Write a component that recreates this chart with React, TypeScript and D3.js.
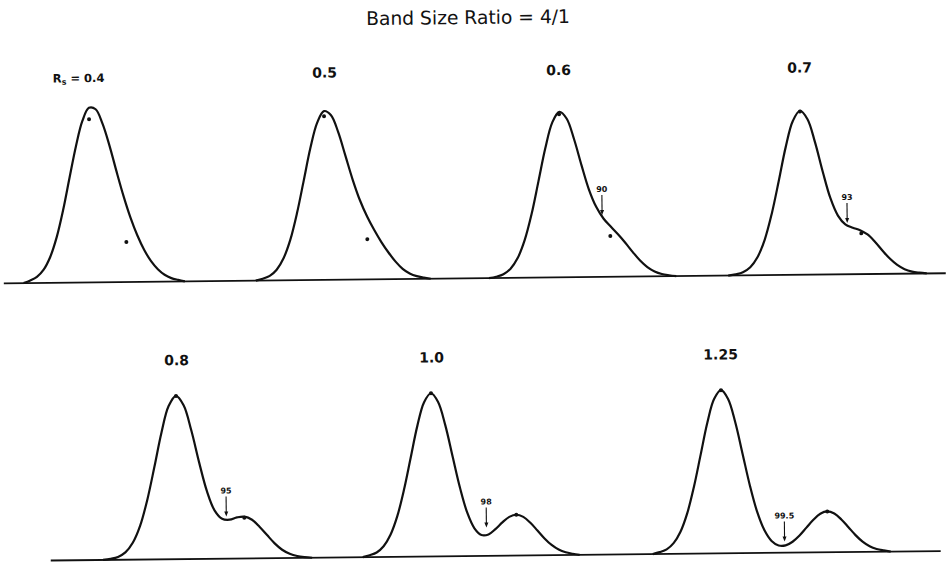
import React from "react";
import * as d3 from "d3";

// ---------- data (time units along the strip, signal in % of main band) ----------
const title = "Band Size Ratio = 4/1";
const resolutionLabels = ["0.4", "0.5", "0.6", "0.7", "0.8", "1.0", "1.25"];
const panelRow = [0, 0, 0, 0, 1, 1, 1];
const labelTime = [8.1, 32.7, 56.1, 80.2, 17.6, 43.1, 72.0];

const trace04: [number, number][] = [[2.38,0],[3.05,1.5],[3.72,3.6],[4.40,7.8],[5.07,15.2],[5.74,26.8],[6.41,42.7],[7.08,61.5],[7.76,80.2],[8.43,95.0],[9.10,102.7],[9.77,101.8],[10.44,93.3],[11.12,80.2],[11.79,65.1],[12.46,50.7],[13.13,38.0],[13.80,27.4],[14.48,18.7],[15.15,12.1],[15.82,7.3],[16.49,4.0],[17.16,2.0],[17.84,0.9],[18.51,0]];
const trace05: [number, number][] = [[25.6,0],[26.3,1.1],[27.0,2.7],[27.7,6.3],[28.4,13.0],[29.1,23.9],[29.8,39.6],[30.5,58.5],[31.2,77.6],[31.9,92.4],[32.6,99.3],[33.3,96.8],[34.0,86.8],[34.7,72.8],[35.4,58.7],[36.1,46.6],[36.8,37.0],[37.5,29.0],[38.2,21.9],[38.9,15.7],[39.6,10.3],[40.3,6.0],[41.0,3.25],[41.7,1.6],[42.4,0.7],[43.1,0]];
const trace06: [number, number][] = [[48.93,0],[49.65,0.8],[50.37,2.2],[51.09,5.4],[51.81,11.6],[52.53,22.1],[53.25,37.4],[53.97,56.6],[54.69,76.0],[55.41,91.1],[56.13,97.4],[56.85,93.4],[57.57,81.3],[58.29,65.9],[59.01,51.5],[59.73,41.1],[60.45,34.2],[61.17,29.4],[61.89,24.8],[62.61,19.8],[63.33,14.4],[64.05,9.4],[64.77,5.5],[65.49,2.9],[66.21,1.35],[66.93,0.56],[67.65,0]];
const trace07: [number, number][] = [[72.85,0],[73.59,0.7],[74.32,1.9],[75.06,4.8],[75.79,10.6],[76.53,20.8],[77.26,36.0],[78.00,55.3],[78.73,75.2],[79.47,90.5],[80.20,96.5],[80.94,91.5],[81.67,77.8],[82.41,60.5],[83.14,45.0],[83.88,34.6],[84.61,29.4],[85.35,27.4],[86.08,25.9],[86.82,23.3],[87.55,19.0],[88.29,13.8],[89.02,9.0],[89.76,5.2],[90.49,2.65],[91.23,1.2],[91.96,0.5],[92.70,0]];
const trace08: [number, number][] = [[10.03,0],[10.78,0.6],[11.53,1.7],[12.27,4.3],[13.02,9.9],[13.77,19.8],[14.51,34.9],[15.26,54.3],[16.01,74.6],[16.75,90.1],[17.50,96.1],[18.25,90.5],[18.99,75.7],[19.74,56.8],[20.49,39.8],[21.23,28.5],[21.98,23.5],[22.73,22.9],[23.47,24.2],[24.22,24.6],[24.97,22.7],[25.71,18.6],[26.46,13.6],[27.21,8.7],[27.95,4.9],[28.70,2.5],[29.45,1.1],[30.19,0.4],[30.94,0]];
const trace10: [number, number][] = [[36.0,0],[36.7,1.1],[37.4,2.7],[38.1,6.3],[38.8,13.0],[39.5,23.9],[40.2,39.5],[40.9,58.2],[41.6,76.9],[42.3,90.8],[43.0,96.0],[43.7,90.8],[44.4,77.0],[45.1,58.5],[45.8,40.2],[46.5,25.5],[47.2,16.3],[47.9,12.3],[48.6,12.6],[49.3,15.7],[50.0,19.6],[50.7,22.8],[51.4,24.0],[52.1,22.7],[52.8,19.2],[53.5,14.6],[54.2,9.9],[54.9,6.0],[55.6,3.25],[56.3,1.6],[57.0,0.7],[57.7,0]];
const trace125: [number, number][] = [[65.0,0],[65.7,1.1],[66.4,2.7],[67.1,6.3],[67.8,13.0],[68.5,23.9],[69.2,39.5],[69.9,58.2],[70.6,76.9],[71.3,90.8],[72.0,96.0],[72.7,90.8],[73.4,76.9],[74.1,58.2],[74.8,39.5],[75.5,24.0],[76.2,13.3],[76.9,7.0],[77.6,4.3],[78.3,4.3],[79.0,6.4],[79.7,10.0],[80.4,14.6],[81.1,19.2],[81.8,22.7],[82.5,24.0],[83.2,22.7],[83.9,19.2],[84.6,14.6],[85.3,9.9],[86.0,6.0],[86.7,3.25],[87.4,1.6],[88.1,0.7],[88.8,0]];
const traces = [trace04, trace05, trace06, trace07, trace08, trace10, trace125];

// individual band maxima (dots)
const bandMaxima04: [number, number][] = [[9.1, 96.0], [12.7, 23.5]];
const bandMaxima05: [number, number][] = [[32.6, 96.3], [36.8, 23.7]];
const bandMaxima06: [number, number][] = [[56.1, 96.0], [61.1, 24.0]];
const bandMaxima07: [number, number][] = [[80.2, 96.0], [86.2, 24.0]];
const bandMaxima08: [number, number][] = [[17.5, 96.0], [24.2, 24.0]];
const bandMaxima10: [number, number][] = [[43.0, 96.0], [51.4, 24.0]];
const bandMaxima125: [number, number][] = [[72.0, 96.0], [82.5, 24.0]];
const bandMaxima = [bandMaxima04, bandMaxima05, bandMaxima06, bandMaxima07, bandMaxima08, bandMaxima10, bandMaxima125];

// purity arrows
const purityLabels = ["90", "93", "95", "98", "99.5"];
const purityRow = [0, 0, 1, 1, 1];
const purityTime = [60.3, 84.8, 22.4, 48.4, 78.2];
const purityTip = [36.4, 30.2, 24.8, 16.7, 6.6];

// baselines (time extent)
const baselineExtent: [number, number][] = [[0.4, 94.6], [4.8, 93.8]];

// ---------- layout ----------
const W = 946, H = 563;
const rowBase = [278.3, 556];
const rowLabelY = [76, 362];
const peakPx = 170;

export default function App() {
  const x = d3.scaleLinear().domain([0, 94.6]).range([0, W]);
  const ys = rowBase.map((b) => d3.scaleLinear().domain([0, 100]).range([b, b - peakPx]));
  const font = "'DejaVu Sans', sans-serif";
  const ink = "#111";

  return (
    <svg width={W} height={H} viewBox={`0 0 ${W} ${H}`}
      style={{ position: "absolute", left: 0, top: 0, background: "#fff" }}>
      <rect width={W} height={H} fill="#fff" />
      <g transform="rotate(-0.61 473 300)">
        <text x={471} y={24} textAnchor="middle" fontFamily={font} fontSize={18.7} fill={ink}>{title}</text>

        {baselineExtent.map((e, r) => (
          <line key={"b" + r} x1={x(e[0])} x2={x(e[1])} y1={ys[r](0)} y2={ys[r](0)} stroke={ink} strokeWidth={1.8} />
        ))}

        {traces.map((t, i) => {
          const y = ys[panelRow[i]];
          const line = d3.line<[number, number]>().x((d) => x(d[0])).y((d) => y(d[1])).curve(d3.curveCatmullRom.alpha(0.5));
          return <path key={"t" + i} d={line(t) || ""} fill="none" stroke={ink} strokeWidth={2.2} strokeLinejoin="round" />;
        })}

        {bandMaxima.map((pts, i) =>
          pts.map((p, j) => (
            <circle key={"d" + i + "-" + j} cx={x(p[0])} cy={ys[panelRow[i]](p[1])} r={2} fill={ink} />
          ))
        )}

        {resolutionLabels.map((l, i) => {
          const r = panelRow[i];
          if (i === 0) {
            return (
              <text key={"l" + i} x={x(labelTime[i])} y={rowLabelY[r] + 2} textAnchor="middle" fontFamily={font} fontWeight="bold" fontSize={11.5} fill={ink}>
                R<tspan fontSize={8} dy={2.5}>s</tspan><tspan dy={-2.5}>{" = " + l}</tspan>
              </text>
            );
          }
          return (
            <text key={"l" + i} x={x(labelTime[i])} y={rowLabelY[r]} textAnchor="middle" fontFamily={font} fontWeight="bold" fontSize={14} fill={ink}>{l}</text>
          );
        })}

        {purityLabels.map((l, i) => {
          const y = ys[purityRow[i]];
          const px = x(purityTime[i]);
          const tip = y(purityTip[i]);
          const top = tip - 20;
          return (
            <g key={"p" + i}>
              <line x1={px} x2={px} y1={top} y2={tip - 3} stroke={ink} strokeWidth={1.1} />
              <path d={`M${px - 2},${tip - 5} L${px + 2},${tip - 5} L${px},${tip} Z`} fill={ink} />
              <text x={px} y={top - 3} textAnchor="middle" fontFamily={font} fontWeight="bold" fontSize={8} fill={ink}>{l}</text>
            </g>
          );
        })}
      </g>
    </svg>
  );
}
